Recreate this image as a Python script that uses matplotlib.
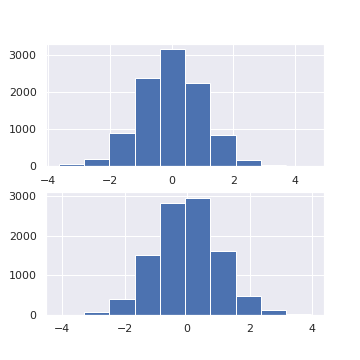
import numpy as np
import matplotlib
matplotlib.use("Agg")
import matplotlib.pyplot as plt
import seaborn as sns

# bin edges and counts
edges_top = np.linspace(-3.65, 4.52, 11)
counts_top = [54, 214, 893, 2384, 3161, 2250, 857, 187, 30, 6]

edges_bottom = np.linspace(-4.11, 3.98, 11)
counts_bottom = [3, 67, 388, 1508, 2839, 2966, 1601, 463, 118, 5]

sns.set_theme()

fig, (ax1, ax2) = plt.subplots(2, 1, figsize=(5, 5), dpi=72)
fig.subplots_adjust(left=0.128, bottom=0.126, top=0.879, hspace=0.206)

ax1.hist(edges_top[:-1], bins=edges_top, weights=counts_top)
ax2.hist(edges_bottom[:-1], bins=edges_bottom, weights=counts_bottom)

ax1.set_xticks([-4, -2, 0, 2, 4])
ax2.set_xticks([-4, -2, 0, 2, 4])

fig.savefig("out.png", dpi=72)
